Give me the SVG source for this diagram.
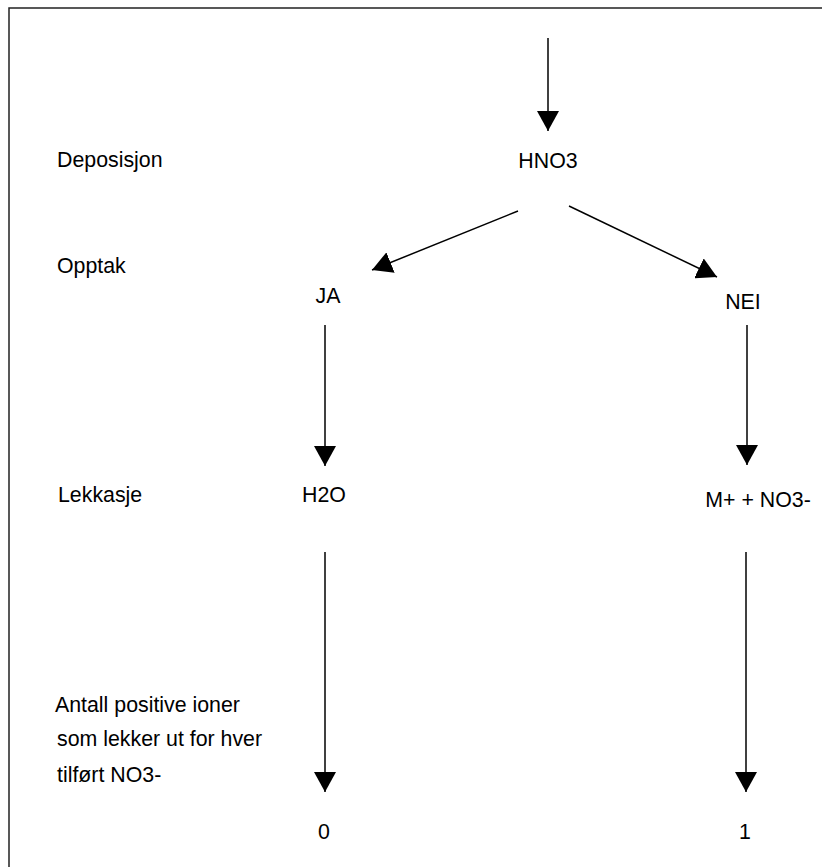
<svg xmlns="http://www.w3.org/2000/svg" width="822" height="867" viewBox="0 0 822 867">
<style>
text{font-family:"Liberation Sans",Arial,sans-serif;font-size:21.33px;fill:#000}
.m{text-anchor:middle}
.c{stroke:#000;stroke-width:1.5;fill:none;marker-end:url(#ah)}
</style>
<defs>
<marker id="ah" markerUnits="userSpaceOnUse" markerWidth="21" markerHeight="22" refX="20" refY="11" orient="auto" viewBox="0 0 21 22">
<path d="M0,0 L20,11 L0,22 z" fill="#000"/>
</marker>
</defs>
<rect x="9" y="8" width="900" height="900" fill="#fff" stroke="#222" stroke-width="1.5"/>
<g id="labels">
<text x="57" y="167">Deposisjon</text>
<text x="57" y="273">Opptak</text>
<text x="58" y="502">Lekkasje</text>
<text x="55" y="712">Antall positive ioner</text>
<text x="57" y="746">som lekker ut for hver</text>
<text x="57" y="782">tilført NO3-</text>
</g>
<g id="n-hno3"><text class="m" x="548" y="168">HNO3</text></g>
<g id="n-ja"><text class="m" x="328" y="303">JA</text></g>
<g id="n-nei"><text class="m" x="743" y="309">NEI</text></g>
<g id="n-h2o"><text class="m" x="324" y="502">H2O</text></g>
<g id="n-mno3"><text class="m" x="758" y="507">M+ + NO3-</text></g>
<g id="n-0"><text class="m" x="324" y="839">0</text></g>
<g id="n-1"><text class="m" x="745" y="839">1</text></g>
<g id="connectors">
<line class="c" x1="548" y1="38" x2="548" y2="131"/>
<line class="c" x1="518" y1="211" x2="372" y2="270"/>
<line class="c" x1="569" y1="206" x2="717" y2="277"/>
<line class="c" x1="325" y1="325" x2="325" y2="466"/>
<line class="c" x1="747" y1="325" x2="747" y2="465"/>
<line class="c" x1="325" y1="552" x2="325" y2="792"/>
<line class="c" x1="746" y1="552" x2="746" y2="792"/>
</g>
</svg>
